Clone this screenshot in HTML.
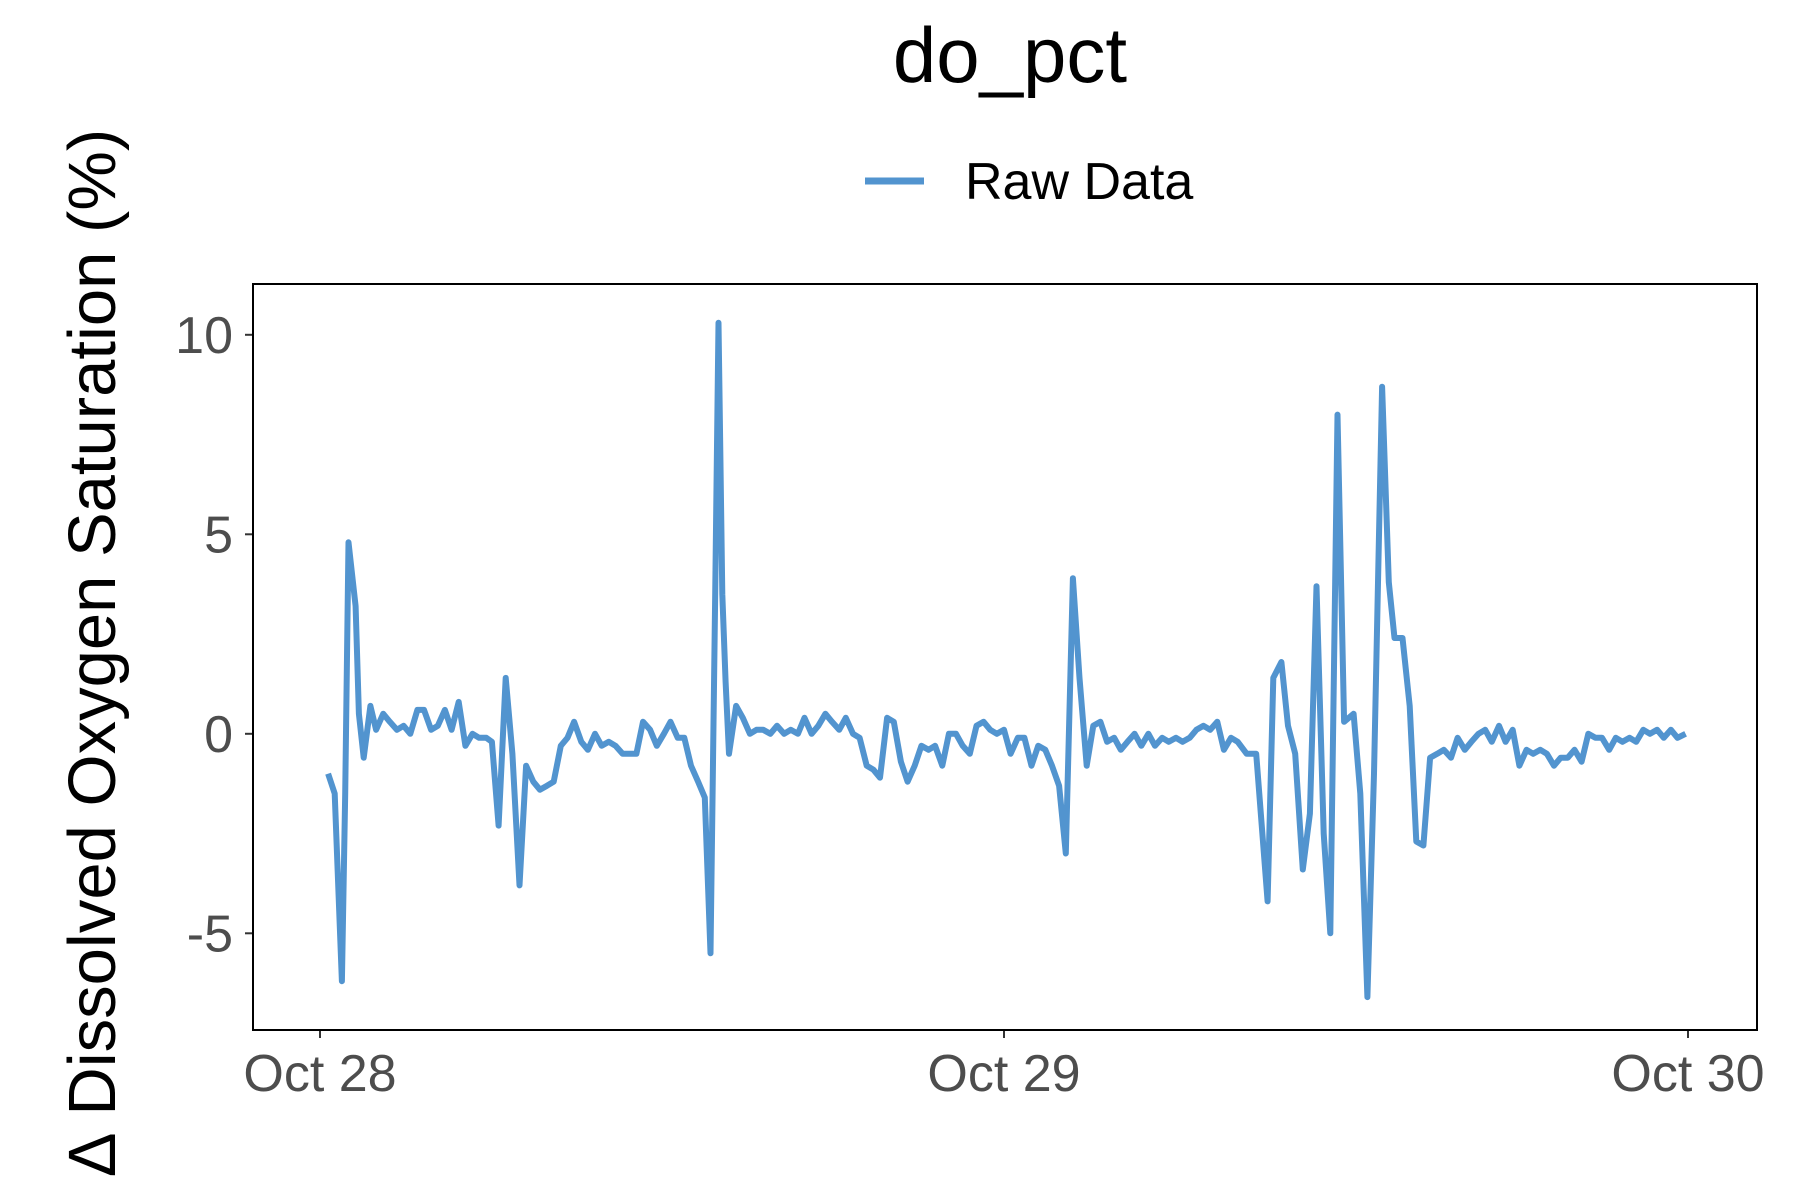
<!DOCTYPE html>
<html><head><meta charset="utf-8"><style>
html,body{margin:0;padding:0;background:#fff;}
svg{display:block;font-family:"Liberation Sans",sans-serif;}
</style></head><body>
<svg id="chart" width="1800" height="1200" viewBox="0 0 1800 1200">
<rect width="1800" height="1200" fill="#fff"/>
<text x="1010" y="82" font-size="78" text-anchor="middle" fill="#000">do_pct</text>
<g>
<line x1="865" y1="181" x2="924" y2="181" stroke="#5294cf" stroke-width="7"/>
<text x="965" y="199" font-size="52" fill="#000">Raw Data</text>
</g>
<text transform="translate(115,652) rotate(-90)" font-size="67" text-anchor="middle" fill="#000">∆ Dissolved Oxygen Saturation (%)</text>
<g id="yticks"></g>
<g id="xticks"></g>
<path id="series" fill="none" stroke="#5294cf" stroke-width="6" stroke-linejoin="round"/>
<rect x="253" y="284" width="1504" height="746" fill="none" stroke="#000" stroke-width="2"/>
</svg>
<script>
const times=[17,31,46,53,60,75,82,92,106,118,133,147,162,176,190,205,219,234,248,263,277,292,306,321,335,350,362,376,391,405,420,434,449,463,478,492,507,521,535,550,564,579,593,608,622,637,651,666,680,695,709,724,738,753,767,781,796,810,822,832,839,847,854,861,876,890,905,919,933,948,962,977,991,1006,1020,1035,1049,1064,1078,1093,1107,1122,1136,1151,1165,1179,1194,1208,1223,1237,1252,1266,1281,1295,1310,1324,1339,1353,1368,1382,1397,1411,1425,1440,1454,1469,1483,1498,1512,1527,1541,1556,1570,1585,1599,1614,1628,1643,1657,1672,1686,1700,1715,1729,1744,1758,1773,1787,1802,1816,1831,1845,1860,1874,1889,1903,1918,1932,1951,1971,1995,2007,2024,2038,2053,2069,2084,2098,2113,2127,2142,2156,2176,2190,2205,2219,2236,2250,2262,2279,2294,2308,2323,2337,2352,2366,2381,2395,2410,2424,2439,2453,2467,2482,2496,2511,2525,2540,2554,2569,2583,2598,2612,2627,2641,2656,2670,2685,2699,2714,2728,2742,2757,2771,2786,2800,2815,2829,2844,2858,2875];
const values=[-1.0,-1.5,-6.2,-1.5,4.8,3.2,0.5,-0.6,0.7,0.1,0.5,0.3,0.1,0.2,0,0.6,0.6,0.1,0.2,0.6,0.1,0.8,-0.3,0,-0.1,-0.1,-0.2,-2.3,1.4,-0.5,-3.8,-0.8,-1.2,-1.4,-1.3,-1.2,-0.3,-0.1,0.3,-0.2,-0.4,0,-0.3,-0.2,-0.3,-0.5,-0.5,-0.5,0.3,0.1,-0.3,0,0.3,-0.1,-0.1,-0.8,-1.2,-1.6,-5.5,3.5,10.3,3.5,1.3,-0.5,0.7,0.4,0,0.1,0.1,0,0.2,0,0.1,0,0.4,0,0.2,0.5,0.3,0.1,0.4,0,-0.1,-0.8,-0.9,-1.1,0.4,0.3,-0.7,-1.2,-0.8,-0.3,-0.4,-0.3,-0.8,0,0,-0.3,-0.5,0.2,0.3,0.1,0,0.1,-0.5,-0.1,-0.1,-0.8,-0.3,-0.4,-0.8,-1.3,-3.0,3.9,1.4,-0.8,0.2,0.3,-0.2,-0.1,-0.4,-0.2,0,-0.3,0,-0.3,-0.1,-0.2,-0.1,-0.2,-0.1,0.1,0.2,0.1,0.3,-0.4,-0.1,-0.2,-0.5,-0.5,-4.2,1.4,1.8,0.2,-0.5,-3.4,-2.0,3.7,-2.5,-5.0,8.0,0.3,0.5,-1.5,-6.6,-1.0,8.7,3.8,2.4,2.4,0.7,-2.7,-2.8,-0.6,-0.5,-0.4,-0.6,-0.1,-0.4,-0.2,0,0.1,-0.2,0.2,-0.2,0.1,-0.8,-0.4,-0.5,-0.4,-0.5,-0.8,-0.6,-0.6,-0.4,-0.7,0,-0.1,-0.1,-0.4,-0.1,-0.2,-0.1,-0.2,0.1,0,0.1,-0.1,0.1,-0.1,0];
const yTicks=[-5,0,5,10];
const yTickLabels=["-5","0","5","10"];
const xTicks=[0,1440,2880];
const xTickLabels=["Oct 28","Oct 29","Oct 30"];

const X=m=>320+m*1368/2880;
const Y=v=>733.8-v*39.9;
const NS="http://www.w3.org/2000/svg";
const yg=document.getElementById('yticks'), xg=document.getElementById('xticks');
yTicks.forEach((v,i)=>{
  const l=document.createElementNS(NS,'line');
  
  
  l.setAttribute('x1',245);l.setAttribute('x2',253);l.setAttribute('y1',Y(v));l.setAttribute('y2',Y(v));
  l.setAttribute('stroke','#333');l.setAttribute('stroke-width',2);yg.appendChild(l);
  const t=document.createElementNS(NS,'text');
  
  
  t.setAttribute('x',233);t.setAttribute('y',Y(v)+18);t.setAttribute('text-anchor','end');
  t.setAttribute('font-size',52);t.setAttribute('fill','#4d4d4d');t.textContent=yTickLabels[i];yg.appendChild(t);
});
xTicks.forEach((m,i)=>{
  const l=document.createElementNS(NS,'line');
  
  
  l.setAttribute('x1',X(m));l.setAttribute('x2',X(m));l.setAttribute('y1',1030);l.setAttribute('y2',1038);
  l.setAttribute('stroke','#333');l.setAttribute('stroke-width',2);xg.appendChild(l);
  const t=document.createElementNS(NS,'text');
  
  
  t.setAttribute('x',X(m));t.setAttribute('y',1091);t.setAttribute('text-anchor','middle');
  t.setAttribute('font-size',52);t.setAttribute('fill','#4d4d4d');t.textContent=xTickLabels[i];xg.appendChild(t);
});
document.getElementById('series').setAttribute('d',times.map((m,i)=>(i?'L':'M')+X(m).toFixed(1)+' '+Y(values[i]).toFixed(1)).join(' '));
</script>
</body></html>
